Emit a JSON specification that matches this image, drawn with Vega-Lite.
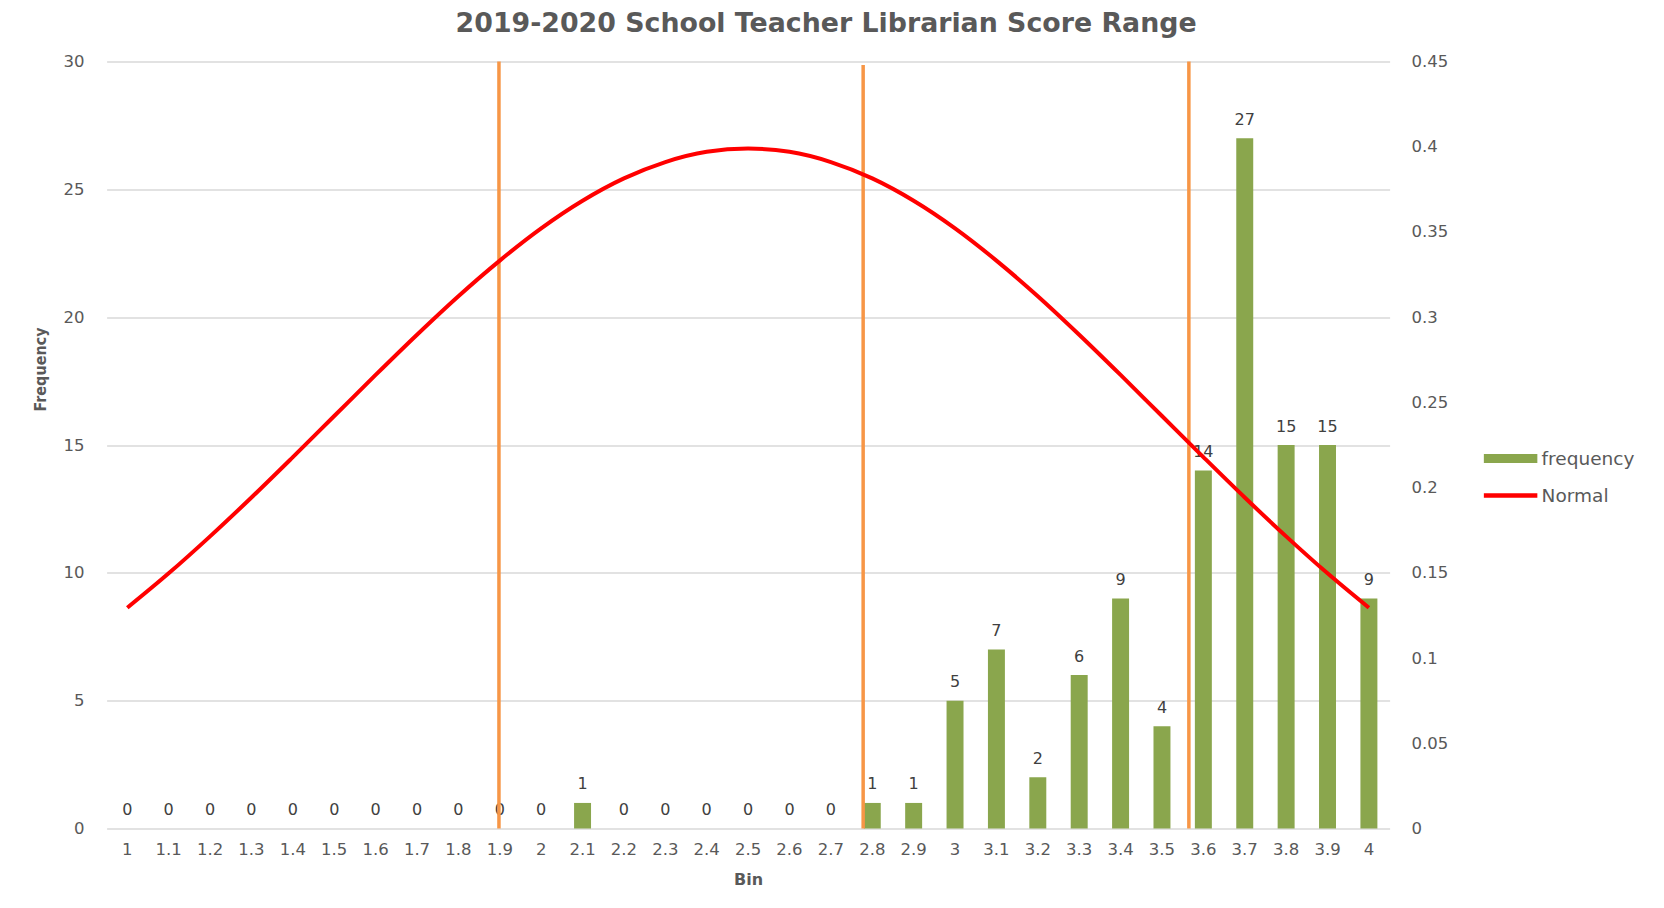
{
  "$schema": "https://vega.github.io/schema/vega-lite/v6.json",
  "width": 1283,
  "height": 767,
  "autosize": "none",
  "padding": {"left": 106.6, "top": 61.5, "right": 274.4, "bottom": 79.5},
  "background": "white",
  "config": {
    "view": {"stroke": null},
    "axis": {"labelColor": "#595959", "titleColor": "#595959", "domain": false, "ticks": false, "tickSize": 0, "labelFont": "DejaVu Sans", "labelFontSize": 16.5}
  },
  "title": {
    "text": "2019-2020 School Teacher Librarian Score Range",
    "font": "DejaVu Sans", "fontSize": 26.8, "fontWeight": "bold", "color": "#595959",
    "anchor": "middle", "dx": 78, "offset": 16
  },
  "datasets": {
    "bins": [
      {"bin": "1", "frequency": 0, "normal": 0.1295},
      {"bin": "1.1", "frequency": 0, "normal": 0.1497},
      {"bin": "1.2", "frequency": 0, "normal": 0.1714},
      {"bin": "1.3", "frequency": 0, "normal": 0.1942},
      {"bin": "1.4", "frequency": 0, "normal": 0.2179},
      {"bin": "1.5", "frequency": 0, "normal": 0.2420},
      {"bin": "1.6", "frequency": 0, "normal": 0.2661},
      {"bin": "1.7", "frequency": 0, "normal": 0.2897},
      {"bin": "1.8", "frequency": 0, "normal": 0.3123},
      {"bin": "1.9", "frequency": 0, "normal": 0.3332},
      {"bin": "2", "frequency": 0, "normal": 0.3521},
      {"bin": "2.1", "frequency": 1, "normal": 0.3683},
      {"bin": "2.2", "frequency": 0, "normal": 0.3814},
      {"bin": "2.3", "frequency": 0, "normal": 0.3910},
      {"bin": "2.4", "frequency": 0, "normal": 0.3970},
      {"bin": "2.5", "frequency": 0, "normal": 0.3989},
      {"bin": "2.6", "frequency": 0, "normal": 0.3970},
      {"bin": "2.7", "frequency": 0, "normal": 0.3910},
      {"bin": "2.8", "frequency": 1, "normal": 0.3814},
      {"bin": "2.9", "frequency": 1, "normal": 0.3683},
      {"bin": "3", "frequency": 5, "normal": 0.3521},
      {"bin": "3.1", "frequency": 7, "normal": 0.3332},
      {"bin": "3.2", "frequency": 2, "normal": 0.3123},
      {"bin": "3.3", "frequency": 6, "normal": 0.2897},
      {"bin": "3.4", "frequency": 9, "normal": 0.2661},
      {"bin": "3.5", "frequency": 4, "normal": 0.2420},
      {"bin": "3.6", "frequency": 14, "normal": 0.2179},
      {"bin": "3.7", "frequency": 27, "normal": 0.1942},
      {"bin": "3.8", "frequency": 15, "normal": 0.1714},
      {"bin": "3.9", "frequency": 15, "normal": 0.1497},
      {"bin": "4", "frequency": 9, "normal": 0.1295}
    ],
    "cuts": [
      {"cut": 1.898, "top": 30},
      {"cut": 2.778, "top": 29.86},
      {"cut": 3.565, "top": 30}
    ]
  },
  "layer": [
    {
      "data": {"name": "bins"},
      "mark": {"type": "bar"},
      "encoding": {
        "x": {
          "field": "bin", "type": "ordinal", "sort": null,
          "scale": {"paddingInner": 0.59, "paddingOuter": 0.295},
          "axis": {"title": "Bin", "labelAngle": 0, "labelBaseline": "middle", "labelPadding": 21, "grid": false,
                   "titleFont": "DejaVu Sans", "titleFontWeight": "bold", "titleFontSize": 16, "titleBaseline": "middle", "titleY": 51}
        },
        "y": {
          "field": "frequency", "type": "quantitative",
          "scale": {"domain": [0, 30], "nice": false},
          "axis": {"title": "Frequency", "values": [0, 5, 10, 15, 20, 25, 30], "grid": true, "gridColor": "#d9d9d9", "gridWidth": 1.3,
                   "labelPadding": 22.6, "titleFont": "DejaVu Sans Condensed", "titleFontWeight": "bold", "titleFontSize": 16,
                   "titleBaseline": "middle", "titleX": -66.6, "titleY": 307.5}
        },
        "color": {
          "datum": "frequency",
          "scale": {"domain": ["frequency", "Normal"], "range": ["#8aa64d", "#ff0000"]},
          "legend": {
            "title": null, "orient": "none", "legendX": 1377, "legendY": 370,
            "symbolSize": 2704, "rowPadding": 0, "padding": 0, "labelOffset": 4,
            "labelFont": "DejaVu Sans", "labelFontSize": 18.5, "labelColor": "#595959",
            "encode": {
              "symbols": {
                "update": {
                  "shape": {"signal": "datum.value === 'Normal' ? 'M-1,-0.058H1V0.058H-1Z' : 'M-1,-0.144H1V0.144H-1Z'"},
                  "fill": {"signal": "datum.value === 'Normal' ? '#ff0000' : '#8aa64d'"},
                  "stroke": {"value": "transparent"},
                  "opacity": {"value": 1}
                }
              }
            }
          }
        }
      }
    },
    {
      "data": {"name": "bins"},
      "mark": {"type": "text", "baseline": "middle", "dy": -18.5, "font": "DejaVu Sans", "fontSize": 16, "color": "#404040"},
      "encoding": {
        "x": {"field": "bin", "type": "ordinal", "sort": null, "scale": {"paddingInner": 0.59, "paddingOuter": 0.295}, "axis": null},
        "y": {"field": "frequency", "type": "quantitative", "scale": {"domain": [0, 30], "nice": false}, "axis": null},
        "text": {"field": "frequency", "type": "quantitative"}
      }
    },
    {
      "data": {"name": "cuts"},
      "mark": {"type": "rule", "color": "#f79646", "strokeWidth": 3.5},
      "encoding": {
        "x": {"field": "cut", "type": "quantitative", "scale": {"domain": [0.95, 4.05], "nice": false, "zero": false}, "axis": null},
        "y": {"field": "top", "type": "quantitative", "scale": {"domain": [0, 30], "nice": false}, "axis": null},
        "y2": {"datum": 0}
      }
    },
    {
      "data": {"name": "bins"},
      "mark": {"type": "line", "strokeWidth": 4, "interpolate": "monotone", "color": "#ff0000"},
      "encoding": {
        "x": {"field": "bin", "type": "ordinal", "sort": null, "scale": {"paddingInner": 0.59, "paddingOuter": 0.295}, "axis": null},
        "y": {
          "field": "normal", "type": "quantitative",
          "scale": {"domain": [0, 0.45], "nice": false},
          "axis": {"orient": "right", "title": null, "grid": false, "values": [0, 0.05, 0.1, 0.15, 0.2, 0.25, 0.3, 0.35, 0.4, 0.45], "format": ".2~f", "labelPadding": 21.4}
        },
        "stroke": {"datum": "Normal", "scale": {"domain": ["frequency", "Normal"], "range": ["#8aa64d", "#ff0000"]}, "legend": null}
      }
    }
  ],
  "resolve": {"scale": {"x": "independent", "y": "independent"}}
}
